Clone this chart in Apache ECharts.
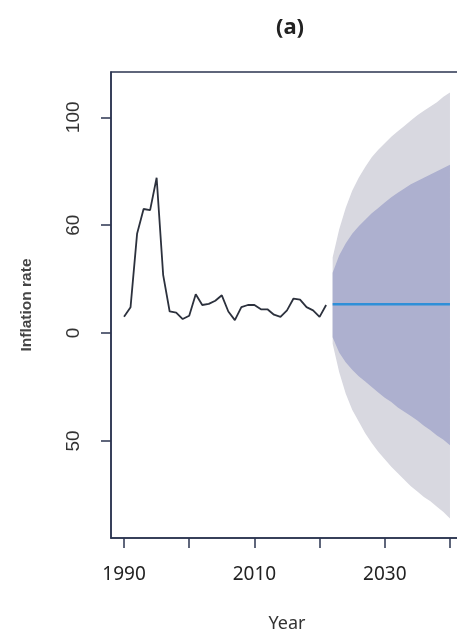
<!DOCTYPE html>
<html>
<head>
<meta charset="utf-8">
<script src="https://cdn.jsdelivr.net/npm/echarts@6/dist/echarts.min.js"></script>
<style>html,body{margin:0;padding:0;background:#fff;}#c{width:457px;height:632px;}</style>
</head>
<body>
<div id="c"></div>
<script>
// Observed inflation rate, 1990-2021
const histYears = [1990,1991,1992,1993,1994,1995,1996,1997,1998,1999,2000,2001,2002,2003,2004,2005,2006,2007,2008,2009,2010,2011,2012,2013,2014,2015,2016,2017,2018,2019,2020,2021];
const histValues = [7.5,12,46,57.5,57,72,27,10,9.5,6.5,8,18,13,13.5,15,17.5,10,6,12,13,13,11,11,8.5,7.5,10.5,16,15.5,12,10.5,7.5,13];
// Forecast 2022-2040
const fcYears = [2022,2023,2024,2025,2026,2027,2028,2029,2030,2031,2032,2033,2034,2035,2036,2037,2038,2039,2040];
const fcMean = [13.4,13.4,13.4,13.4,13.4,13.4,13.4,13.4,13.4,13.4,13.4,13.4,13.4,13.4,13.4,13.4,13.4,13.4,13.4];
const lo95 = [-5,-18,-28,-35.5,-41,-46.5,-51,-55,-58.5,-62,-65,-68,-71,-73.5,-76,-78,-80.5,-83,-86];
const lo80 = [-2,-9,-13.5,-17,-20,-22.5,-25,-27.5,-30,-32,-34.5,-36.5,-38.5,-40.5,-43,-45,-47.5,-49.5,-52];
const hi80 = [28,36,41.5,46,49.5,52.5,55.5,58,60.5,63,65,67,69,70.5,72,73.5,75,76.5,78];
const hi95 = [35,48,58,66,72,77,81.5,85,88,91,93.5,96,98.5,101,103,105,107,109.5,111.5];
// Axis ticks and labels
const xTickValues = [1990,2000,2010,2020,2030,2040];
const xLabelValues = [1990,2010,2030];
const yTickValues = [100,50,0,-50];
const yTickLabels = ["100","60","0","50"];

const pairs = (xs, ys) => xs.map((x, i) => [x, ys[i]]);

// band polygon drawn through the chart's own coordinate system
function bandSeries(lower, upper, color) {
  return {
    type: 'custom',
    silent: true,
    data: [[fcYears[0], lower[0]]],
    renderItem: function (params, api) {
      const pts = [];
      for (let i = 0; i < fcYears.length; i++) pts.push(api.coord([fcYears[i], upper[i]]));
      for (let i = fcYears.length - 1; i >= 0; i--) pts.push(api.coord([fcYears[i], lower[i]]));
      return {type: 'polygon', shape: {points: pts}, style: {fill: color, stroke: null}};
    }
  };
}

const axisColor = '#2b3550';
const chart = echarts.init(document.getElementById('c'), null, {renderer: 'canvas'});
chart.setOption({
  animation: false,
  backgroundColor: '#ffffff',
  title: {
    text: '(a)', left: 285, top: 12, textAlign: 'center',
    textStyle: {fontFamily: 'Noto Sans', fontWeight: 'bold', fontSize: 22, color: '#222'}
  },
  grid: {left: 111, right: -6, top: 72, bottom: 94, outerBoundsMode: 'none', containLabel: false, show: true, borderColor: axisColor, borderWidth: 1.5, backgroundColor: 'transparent'},
  xAxis: {
    type: 'value', min: 1988, max: 2042,
    name: 'Year', nameLocation: 'middle', nameGap: 77,
    nameTextStyle: {fontFamily: 'Noto Sans', fontSize: 18, color: '#333'},
    axisLine: {show: true, onZero: false, lineStyle: {color: axisColor, width: 1.5}},
    axisTick: {show: true, length: 10, customValues: xTickValues, lineStyle: {color: axisColor, width: 1.5}},
    axisLabel: {customValues: xLabelValues, margin: 27, fontFamily: 'Noto Sans', fontSize: 19, color: '#222', formatter: v => String(v)},
    splitLine: {show: false}
  },
  yAxis: {
    type: 'value', min: -95, max: 121,
    name: 'Inflation rate', nameLocation: 'middle', nameGap: 76, nameRotate: 90,
    nameTextStyle: {fontFamily: 'Liberation Sans', fontWeight: 'bold', fontSize: 15.5, color: '#444'},
    axisLine: {show: true, onZero: false, lineStyle: {color: axisColor, width: 1.5}},
    axisTick: {show: true, length: 10, customValues: yTickValues, lineStyle: {color: axisColor, width: 1.5}},
    axisLabel: {
      customValues: yTickValues, rotate: 90, margin: 28,
      fontFamily: 'Liberation Sans', fontSize: 19, color: '#333',
      formatter: v => yTickLabels[yTickValues.indexOf(v)]
    },
    splitLine: {show: false}
  },
  series: [
    bandSeries(lo95, hi95, '#d8d8e0'),
    bandSeries(lo80, hi80, '#adb0cf'),
    {type: 'line', data: pairs(fcYears, fcMean), symbol: 'none', lineStyle: {color: '#2f8fd8', width: 2.5}},
    {type: 'line', data: pairs(histYears, histValues), symbol: 'none', lineStyle: {color: '#2c313d', width: 1.8}}
  ]
});
</script>
</body>
</html>
